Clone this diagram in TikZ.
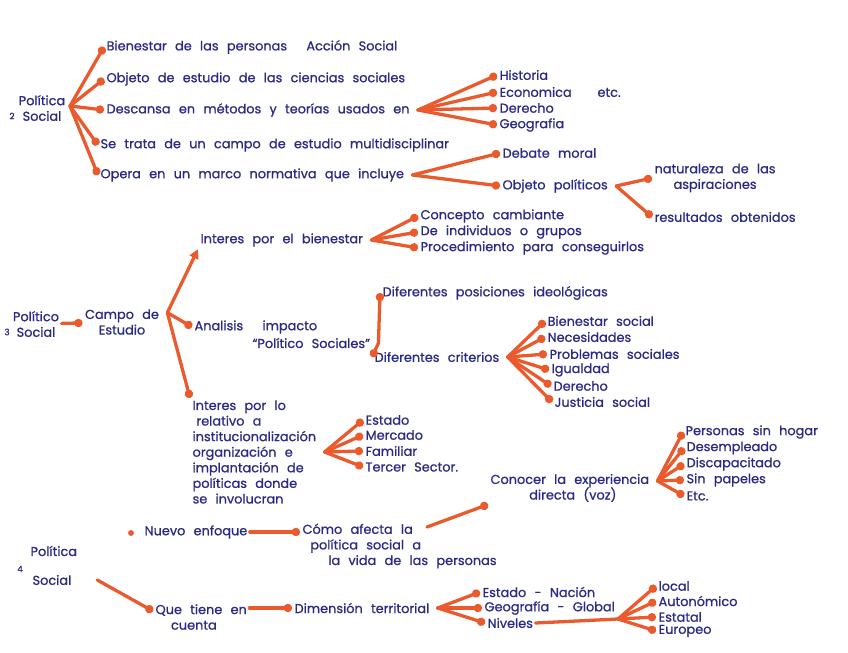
\documentclass[tikz,border=0pt]{standalone}
\usepackage{fontspec}
\setmainfont{Poppins}[WordSpace=2.4, FakeBold=0.8]
\usetikzlibrary{arrows.meta}
\definecolor{ink}{HTML}{2A2A86}
\definecolor{marker}{HTML}{EA5A2C}

\begin{document}
\begin{tikzpicture}[
  x=0.03cm, y=-0.03cm,
  font=\fontsize{11}{13.3}\selectfont,
  item/.style={anchor=west, text=ink, inner sep=2pt, align=left},
  title/.style={item, anchor=center, align=center},
  num/.style={text=ink, inner sep=1pt, font=\fontsize{7.5}{8}\selectfont},
  bullet/.style={circle, fill=marker, inner sep=0pt, minimum size=5pt},
  link/.style={draw=marker, line width=2.8pt, line cap=round, -{Circle[length=7pt]}},
  plain/.style={draw=marker, line width=2.8pt, line cap=round}
]
\fill[white] (0,0) rectangle (848,653);

\node[num] (num2) at (12,116) {2};
\node[title] (pol2) at (42,108) {Política\\Social};
\coordinate (h2) at (70,106);
\node[item] (bien) at (104,47) {Bienestar de las personas\hspace{1.5em}Acción Social};
\node[item] (obj) at (104,79) {Objeto de estudio de las ciencias sociales};
\node[item] (desc) at (104,110) {Descansa en métodos y teorías usados en};
\node[item] (trata) at (98,145) {Se trata de un campo de estudio multidisciplinar};
\node[item] (opera) at (98,175) {Opera en un marco normativa que incluye};
\draw[link] (h2) -- (bien.west);
\draw[link] (h2) -- (obj.west);
\draw[link] (h2) -- (desc.west);
\draw[link] (h2) -- (trata.west);
\draw[link] (h2) -- (opera.west);

\coordinate (h2d) at ([xshift=5pt]desc.east);
\node[item] (hist) at (497,75) {Historia};
\node[item] (econ) at (497,92) {Economica\hspace{2em}etc.};
\node[item] (der) at (497,108) {Derecho};
\node[item] (geo) at (497,125) {Geografia};
\draw[link] (h2d) -- (hist.west);
\draw[link] (h2d) -- (econ.west);
\draw[link] (h2d) -- (der.west);
\draw[link] (h2d) -- (geo.west);

\coordinate (h2o) at ([xshift=5pt]opera.east);
\node[item] (deb) at (500,153) {Debate moral};
\node[item] (objp) at (500,186) {Objeto políticos};
\draw[link] (h2o) -- (deb.west);
\draw[link] (h2o) -- (objp.west);
\coordinate (h2p) at ([xshift=5pt]objp.east);
\node[item, align=center] (natu) at (652,178) {naturaleza de las\\aspiraciones};
\node[item] (resu) at (652,217) {resultados obtenidos};
\draw[link] (h2p) -- (natu.west);
\draw[link] (h2p) -- (resu.west);

\node[num] (num3) at (7,332) {3};
\node[title] (pol3) at (36,324) {Político\\Social};
\node[title] (campo) at (122,322) {Campo de\\Estudio};
\draw[link] (pol3) -- (campo);
\coordinate (h3) at ([xshift=5pt, yshift=8pt]campo.east);
\node[item] (intb) at (198,240) {Interes por el bienestar};
\node[item] (anal) at (192,327) {Analisis\hspace{1.5em}impacto};
\node[item] (anals) at (250,343) {“Político Sociales”};
\node[item] (intr) at (190,452) {Interes por lo\\\hspace{0.3em}relativo a\\institucionalización\\organización e\\implantación de\\políticas donde\\se involucran};
\draw[plain, -{Triangle[length=8pt, width=8pt]}] (h3) -- (intb.south west);
\draw[link] (h3) -- (anal.west);
\draw[link] (h3) -- (intr.north west);

\coordinate (h3a) at ([xshift=5pt]intb.east);
\node[item] (conc) at (418,216) {Concepto cambiante};
\node[item] (indiv) at (418,232) {De individuos o grupos};
\node[item] (proc) at (418,248) {Procedimiento para conseguirlos};
\draw[link] (h3a) -- (conc.west);
\draw[link] (h3a) -- (indiv.west);
\draw[link] (h3a) -- (proc.west);

\coordinate (h3b) at ([xshift=5pt]anals.east);
\node[item] (dpos) at (380,293) {Diferentes posiciones ideológicas};
\node[item] (dcri) at (372,357) {Diferentes criterios};
\draw[link] (h3b) -- (dpos.west);
\draw[link] (h3b) -- (dcri.west);
\coordinate (h3c) at ([xshift=5pt]dcri.east);
\node[item] (bsoc) at (545,321) {Bienestar social};
\node[item] (nec) at (545,337) {Necesidades};
\node[item] (prob) at (547,354) {Problemas sociales};
\node[item] (igu) at (549,370) {Igualdad};
\node[item] (dere) at (551,386) {Derecho};
\node[item] (just) at (552,402) {Justicia social};
\draw[link] (h3c) -- (bsoc.west);
\draw[link] (h3c) -- (nec.west);
\draw[link] (h3c) -- (prob.west);
\draw[link] (h3c) -- (igu.west);
\draw[link] (h3c) -- (dere.west);
\draw[link] (h3c) -- (just.west);

\coordinate (h3d) at ([xshift=5pt]intr.east);
\node[item] (est) at (363,420) {Estado};
\node[item] (merc) at (363,435) {Mercado};
\node[item] (fam) at (363,451) {Familiar};
\node[item] (terc) at (363,467) {Tercer Sector.};
\draw[link] (h3d) -- (est.west);
\draw[link] (h3d) -- (merc.west);
\draw[link] (h3d) -- (fam.west);
\draw[link] (h3d) -- (terc.west);

\node[bullet] (dotn) at (131,533) {};
\node[item] (nuevo) at (142,532) {Nuevo enfoque};
\node[item] (como) at (300,546) {Cómo afecta la\\\hspace{0.6em}política social a\\\hspace{2em}la vida de las personas};
\draw[link] (nuevo) -- (nuevo -| como.west);
\coordinate (c1) at (427,527);
\node[item] (conoc) at (488,488) {Conocer la experiencia\\\hspace{3em}directa (voz)};
\draw[link] (c1) -- (conoc.south west);
\coordinate (h4a) at ([xshift=5pt, yshift=6pt]conoc.east);
\node[item] (pers) at (683,432) {Personas sin hogar};
\node[item] (desem) at (684,448) {Desempleado};
\node[item] (disc) at (684,464) {Discapacitado};
\node[item] (sinp) at (684,480) {Sin papeles};
\node[item] (etc) at (684,496) {Etc.};
\draw[link] (h4a) -- (pers.west);
\draw[link] (h4a) -- (desem.west);
\draw[link] (h4a) -- (disc.west);
\draw[link] (h4a) -- (sinp.west);
\draw[link] (h4a) -- (etc.west);

\node[item] (pol4) at (28,551) {Política};
\node[num] (num4) at (20,569) {4};
\node[item] (soc4) at (30,580) {Social};
\node[item] (que) at (153,617) {Que tiene en\\\hspace{1.2em}cuenta};
\node[item] (dim) at (292,608) {Dimensión territorial};
\draw[link] ([xshift=20pt]soc4.east) -- ([yshift=5pt]que.west);
\draw[link] (que.east |- dim.west) -- (dim.west);
\coordinate (h4b) at ([xshift=5pt]dim.east);
\node[item] (estn) at (480,592) {Estado - Nación};
\node[item] (geog) at (482,608) {Geografía - Global};
\node[item] (niv) at (485,623) {Niveles};
\draw[link] (h4b) -- (estn.west);
\draw[link] (h4b) -- (geog.west);
\draw[link] (h4b) -- (niv.west);
\coordinate (h4c) at (618,619);
\node[item] (loc) at (656,586) {local};
\node[item] (aut) at (656,601) {Autonómico};
\node[item] (esta) at (656,617) {Estatal};
\node[item] (eur) at (656,631) {Europeo};
\draw[plain] (niv.east) -- (h4c);
\draw[link] (h4c) -- (loc.west);
\draw[link] (h4c) -- (aut.west);
\draw[link] (h4c) -- (esta.west);
\draw[link] (h4c) -- (eur.west);
\end{tikzpicture}
\end{document}
